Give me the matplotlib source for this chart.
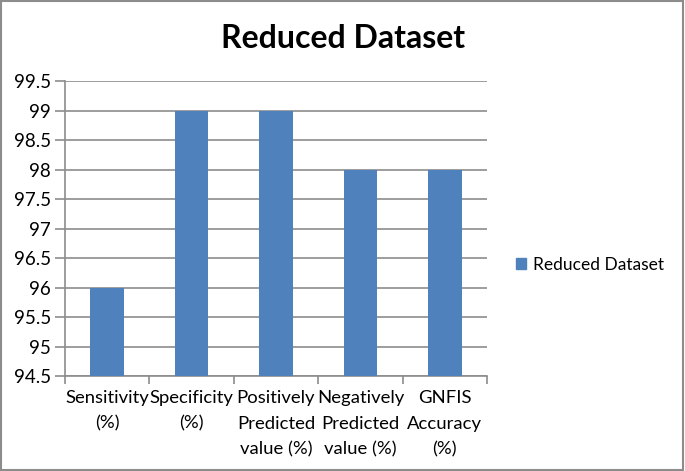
import matplotlib
matplotlib.use("Agg")
import matplotlib.pyplot as plt
from matplotlib.patches import Rectangle, Patch

categories = ["Sensitivity\n(%)", "Specificity\n(%)", "Positively\nPredicted\nvalue (%)",
              "Negatively\nPredicted\nvalue (%)", "GNFIS\nAccuracy\n(%)"]
values = [96, 99, 99, 98, 98]
series_name = "Reduced Dataset"
yticks = [94.5, 95, 95.5, 96, 96.5, 97, 97.5, 98, 98.5, 99, 99.5]

plt.rcParams['font.family'] = ['Lato', 'DejaVu Sans']

fig = plt.figure(figsize=(6.85, 4.71), dpi=100)
ax = fig.add_axes([65/685, 1-376/471, (487-65)/685, (376-81)/471])

x = list(range(len(values)))
ax.bar(x, [v - 94.5 for v in values], bottom=94.5, width=0.4, color="#4F81BD", zorder=3)
ax.set_ylim(94.5, 99.5)
ax.set_xlim(-0.5, len(values) - 0.5)
ax.set_yticks(yticks)
ax.set_yticklabels([f"{t:g}" for t in yticks], fontsize=13.5)
ax.yaxis.grid(True, color="#8c8c8c", linewidth=1.2, zorder=0)
ax.tick_params(axis='y', length=7, color="#8c8c8c", width=1.2, pad=3)

ax.set_xticks([i - 0.5 for i in range(len(values) + 1)], minor=False)
ax.set_xticklabels([""] * (len(values) + 1))
ax.tick_params(axis='x', length=6, color="#8c8c8c", width=1.2, direction='out')
for i, c in enumerate(categories):
    ax.text(i, 94.5 - 0.24, c, ha='center', va='top', fontsize=13.3,
            transform=ax.transData, linespacing=1.72)

for s in ["top", "right"]:
    ax.spines[s].set_visible(False)
for s in ["left", "bottom"]:
    ax.spines[s].set_color("#8c8c8c")
    ax.spines[s].set_linewidth(1.2)

fig.text(343/685, 1-38/471, "Reduced Dataset", ha='center', va='center',
         fontsize=23, fontweight='bold')

fig.legend(handles=[Patch(color="#4F81BD", label=series_name)],
           loc='center left', bbox_to_anchor=(500/685, 1-265/471), frameon=False,
           fontsize=12.5, handlelength=0.6, handleheight=0.6, handletextpad=0.4)

fig.patches.append(Rectangle((0.002, 0.003), 0.995, 0.994, transform=fig.transFigure,
                             fill=False, edgecolor="#8c8c8c", linewidth=1.5))

fig.savefig("out.png", dpi=100)
